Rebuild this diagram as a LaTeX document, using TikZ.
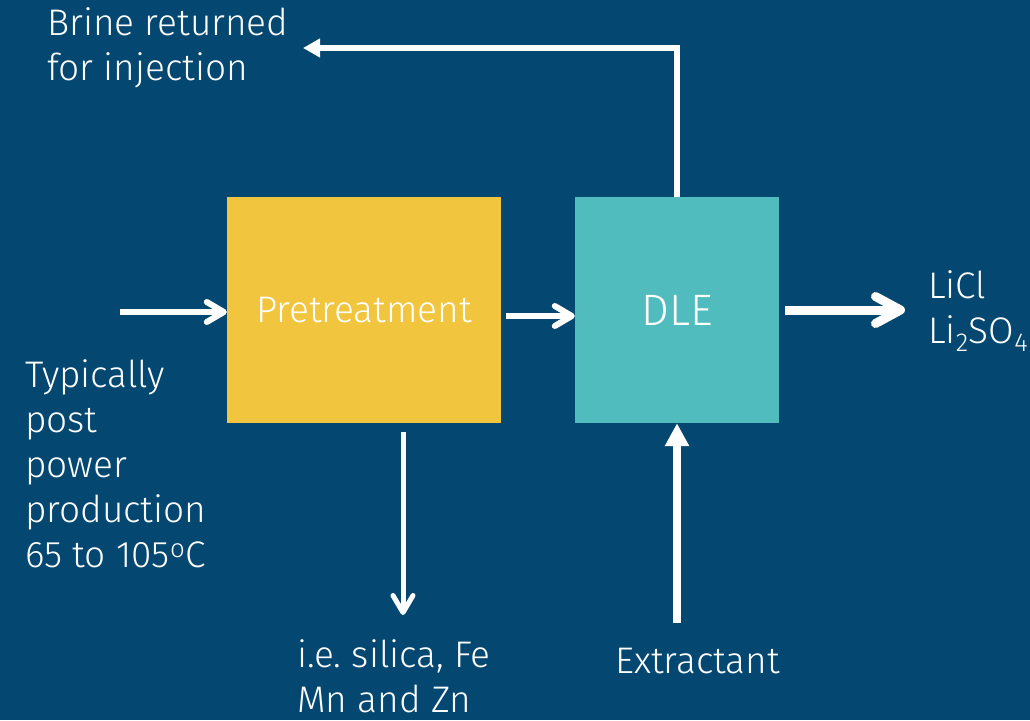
\documentclass[tikz,border=0pt]{standalone}
\usepackage{fontspec}
\setmainfont{Fira Sans}[UprightFont=* Light]
\usetikzlibrary{arrows.meta}
\frenchspacing
\definecolor{bgblue}{RGB}{4,72,113}
\definecolor{preyellow}{RGB}{242,197,62}
\definecolor{dleteal}{RGB}{80,188,189}
\tikzset{
  stage/.style={rectangle, inner sep=0pt, minimum height=226pt, text=white,
    font=\fontsize{37}{44}\selectfont, text height=25pt, text depth=0pt},
  lbl/.style={text=white, inner sep=0pt, anchor=base west, align=left,
    font=\fontsize{37}{45}\selectfont},
  flow/.style={draw=white, line width=6pt, -{Straight Barb[length=17pt,width=20pt,round]}},
  feed/.style={draw=white, line width=6pt, -{Triangle[length=17pt,width=18pt]}},
}
\begin{document}
\begin{tikzpicture}[x=1pt,y=-1pt]
    % background
    \fill[bgblue] (0,0) rectangle (1030,720);
    \useasboundingbox (0,0) rectangle (1030,720);

    % process boxes
    \node[stage, fill=preyellow, minimum width=274pt] (pre) at (364,310) {Pretreatment};
    \node[stage, fill=dleteal, minimum width=204pt, font=\fontsize{44}{50}\selectfont,
      text height=31pt] (dle) at (677,310) {DLE};

    % labels (anchored at the baseline of their last line)
    \node[lbl] (brine) at (47,80) {Brine returned\\for injection};
    \node[lbl] (prod) at (928,343) {LiCl\\Li\textsubscript{2}SO\textsubscript{4}};
    \node[lbl] (feedin) at (25,567) {Typically\\post\\power\\production\\65 to 105\textsuperscript{o}C};
    \node[lbl] (waste) at (297,712) {i.e. silica, Fe\\Mn and Zn};
    \node[lbl] (extr) at (615,673) {Extractant};

    % free ends of the flows
    \coordinate (in) at (120,312);
    \coordinate (out) at (905,310);
    \coordinate (ret) at (303,48);
    \coordinate (sink) at (403,615);
    \coordinate (src) at (677,623);

    \draw[flow] (in) -- (pre.west |- in);
    \draw[flow, shorten <=5pt] ([yshift=-6pt]pre.east) -- ([yshift=-6pt]dle.west);
    \draw[flow, line width=9pt, shorten <=6pt,
      -{Straight Barb[length=25pt,width=27pt,round]}] (dle.east) -- (out);
    \draw[feed] (dle.north) |- (ret);
    \draw[flow, line width=5pt, shorten <=9pt] (pre.south -| sink) -- (sink);
    \draw[feed, line width=8pt, -{Triangle[length=23pt,width=23pt]}] (src) -- (dle.south);
\end{tikzpicture}
\end{document}
